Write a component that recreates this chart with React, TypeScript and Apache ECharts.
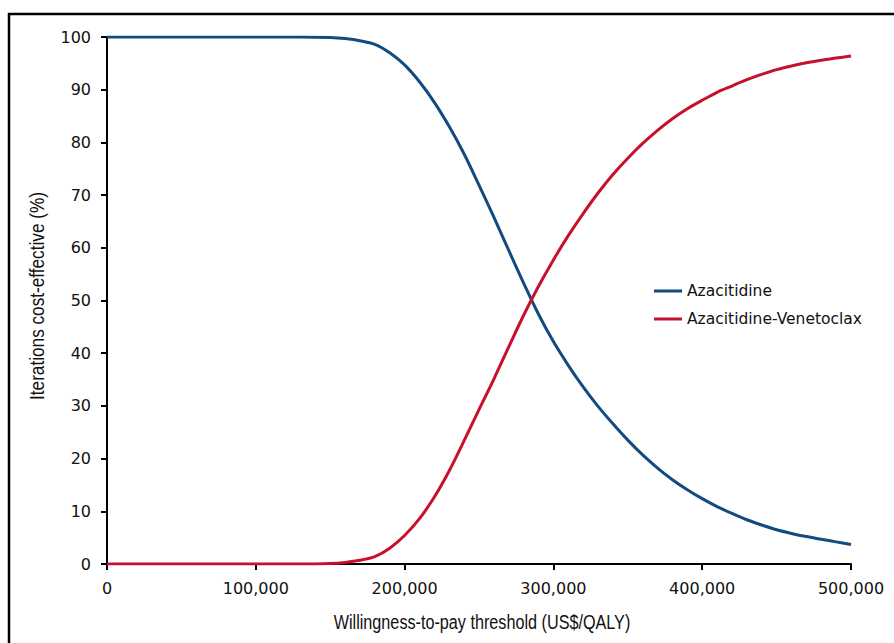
import React, { useEffect, useRef } from "react";
import * as echarts from "echarts";

const wtp = [0, 50000, 100000, 130000, 150000, 160000, 170000, 180000, 190000, 200000, 210000, 220000, 230000, 240000, 250000, 260000, 270000, 280000, 290000, 300000, 310000, 320000, 330000, 340000, 350000, 360000, 370000, 380000, 390000, 400000, 410000, 420000, 430000, 440000, 450000, 460000, 470000, 480000, 490000, 500000];
const azacitidine = [100, 100, 100, 100, 99.9, 99.7, 99.3, 98.6, 97.0, 94.7, 91.5, 87.6, 83.0, 77.8, 71.9, 65.8, 59.5, 53.3, 47.4, 42.2, 37.7, 33.6, 29.9, 26.6, 23.5, 20.7, 18.2, 16.0, 14.1, 12.4, 10.9, 9.6, 8.4, 7.4, 6.5, 5.8, 5.2, 4.7, 4.2, 3.7];
const azaVen = [0, 0, 0, 0, 0.1, 0.3, 0.7, 1.4, 3.0, 5.4, 8.6, 12.7, 17.7, 23.4, 29.3, 35.1, 41.2, 47.2, 52.7, 57.7, 62.3, 66.5, 70.4, 73.9, 77.0, 79.8, 82.3, 84.5, 86.4, 88.0, 89.5, 90.7, 91.9, 92.9, 93.8, 94.5, 95.1, 95.6, 96.0, 96.4];
const seriesNames = ["Azacitidine", "Azacitidine-Venetoclax"];
const xTitle = "Willingness-to-pay threshold (US$/QALY)";
const yTitle = "Iterations cost-effective (%)";

export default function App() {
  const ref = useRef<HTMLDivElement>(null);
  useEffect(() => {
    const chart = echarts.init(ref.current!, null, { renderer: "svg" });
    const tickFont = "'DejaVu Sans', sans-serif";
    const titleFont = "'Liberation Sans', Arial, sans-serif";
    chart.setOption({
      animation: false,
      backgroundColor: "#fff",
      grid: { left: 107, right: 43, top: 37, bottom: 79 },
      legend: {
        orient: "vertical",
        left: 649,
        top: 278,
        padding: 5,
        icon: "rect",
        itemWidth: 28,
        itemHeight: 3,
        itemGap: 12,
        textStyle: { fontFamily: tickFont, fontSize: 15.5, color: "#111" },
        data: seriesNames,
      },
      xAxis: {
        type: "value",
        min: 0,
        max: 500000,
        interval: 100000,
        axisLine: { lineStyle: { color: "#000", width: 2 } },
        axisTick: { show: true, length: 6, lineStyle: { color: "#000", width: 2 } },
        axisLabel: {
          margin: 16,
          fontFamily: tickFont,
          fontSize: 16,
          color: "#111",
          formatter: (v: number) => v.toLocaleString("en-US"),
        },
        splitLine: { show: false },
      },
      yAxis: {
        type: "value",
        min: 0,
        max: 100,
        interval: 10,
        axisLine: { show: true, lineStyle: { color: "#000", width: 2 } },
        axisTick: { show: true, length: 6, lineStyle: { color: "#000", width: 2 } },
        axisLabel: { margin: 16, fontFamily: tickFont, fontSize: 16, color: "#111" },
        splitLine: { show: false },
      },
      graphic: [
        {
          type: "rect",
          shape: { x: 9, y: 14, width: 900, height: 700 },
          style: { fill: "none", stroke: "#000", lineWidth: 2.5 },
          silent: true,
        },
        {
          type: "text",
          x: 482,
          y: 622,
          scaleX: 0.81,
          style: {
            text: xTitle,
            fontFamily: titleFont,
            fontSize: 20,
            fill: "#111",
            align: "center",
            verticalAlign: "middle",
          },
        },
        {
          type: "text",
          x: 37,
          y: 296,
          rotation: Math.PI / 2,
          scaleX: 0.86,
          style: {
            text: yTitle,
            fontFamily: titleFont,
            fontSize: 20,
            fill: "#111",
            align: "center",
            verticalAlign: "middle",
          },
        },
      ],
      series: [
        {
          name: seriesNames[0],
          type: "line",
          data: wtp.map((x, i) => [x, azacitidine[i]]),
          smooth: 0.3,
          showSymbol: false,
          lineStyle: { color: "#114B80", width: 3 },
          itemStyle: { color: "#114B80" },
        },
        {
          name: seriesNames[1],
          type: "line",
          data: wtp.map((x, i) => [x, azaVen[i]]),
          smooth: 0.3,
          showSymbol: false,
          lineStyle: { color: "#C8102E", width: 3 },
          itemStyle: { color: "#C8102E" },
        },
      ],
    });
    return () => chart.dispose();
  }, []);
  return (
    <div
      ref={ref}
      style={{ position: "fixed", left: 0, top: 0, width: 894, height: 643 }}
    />
  );
}
